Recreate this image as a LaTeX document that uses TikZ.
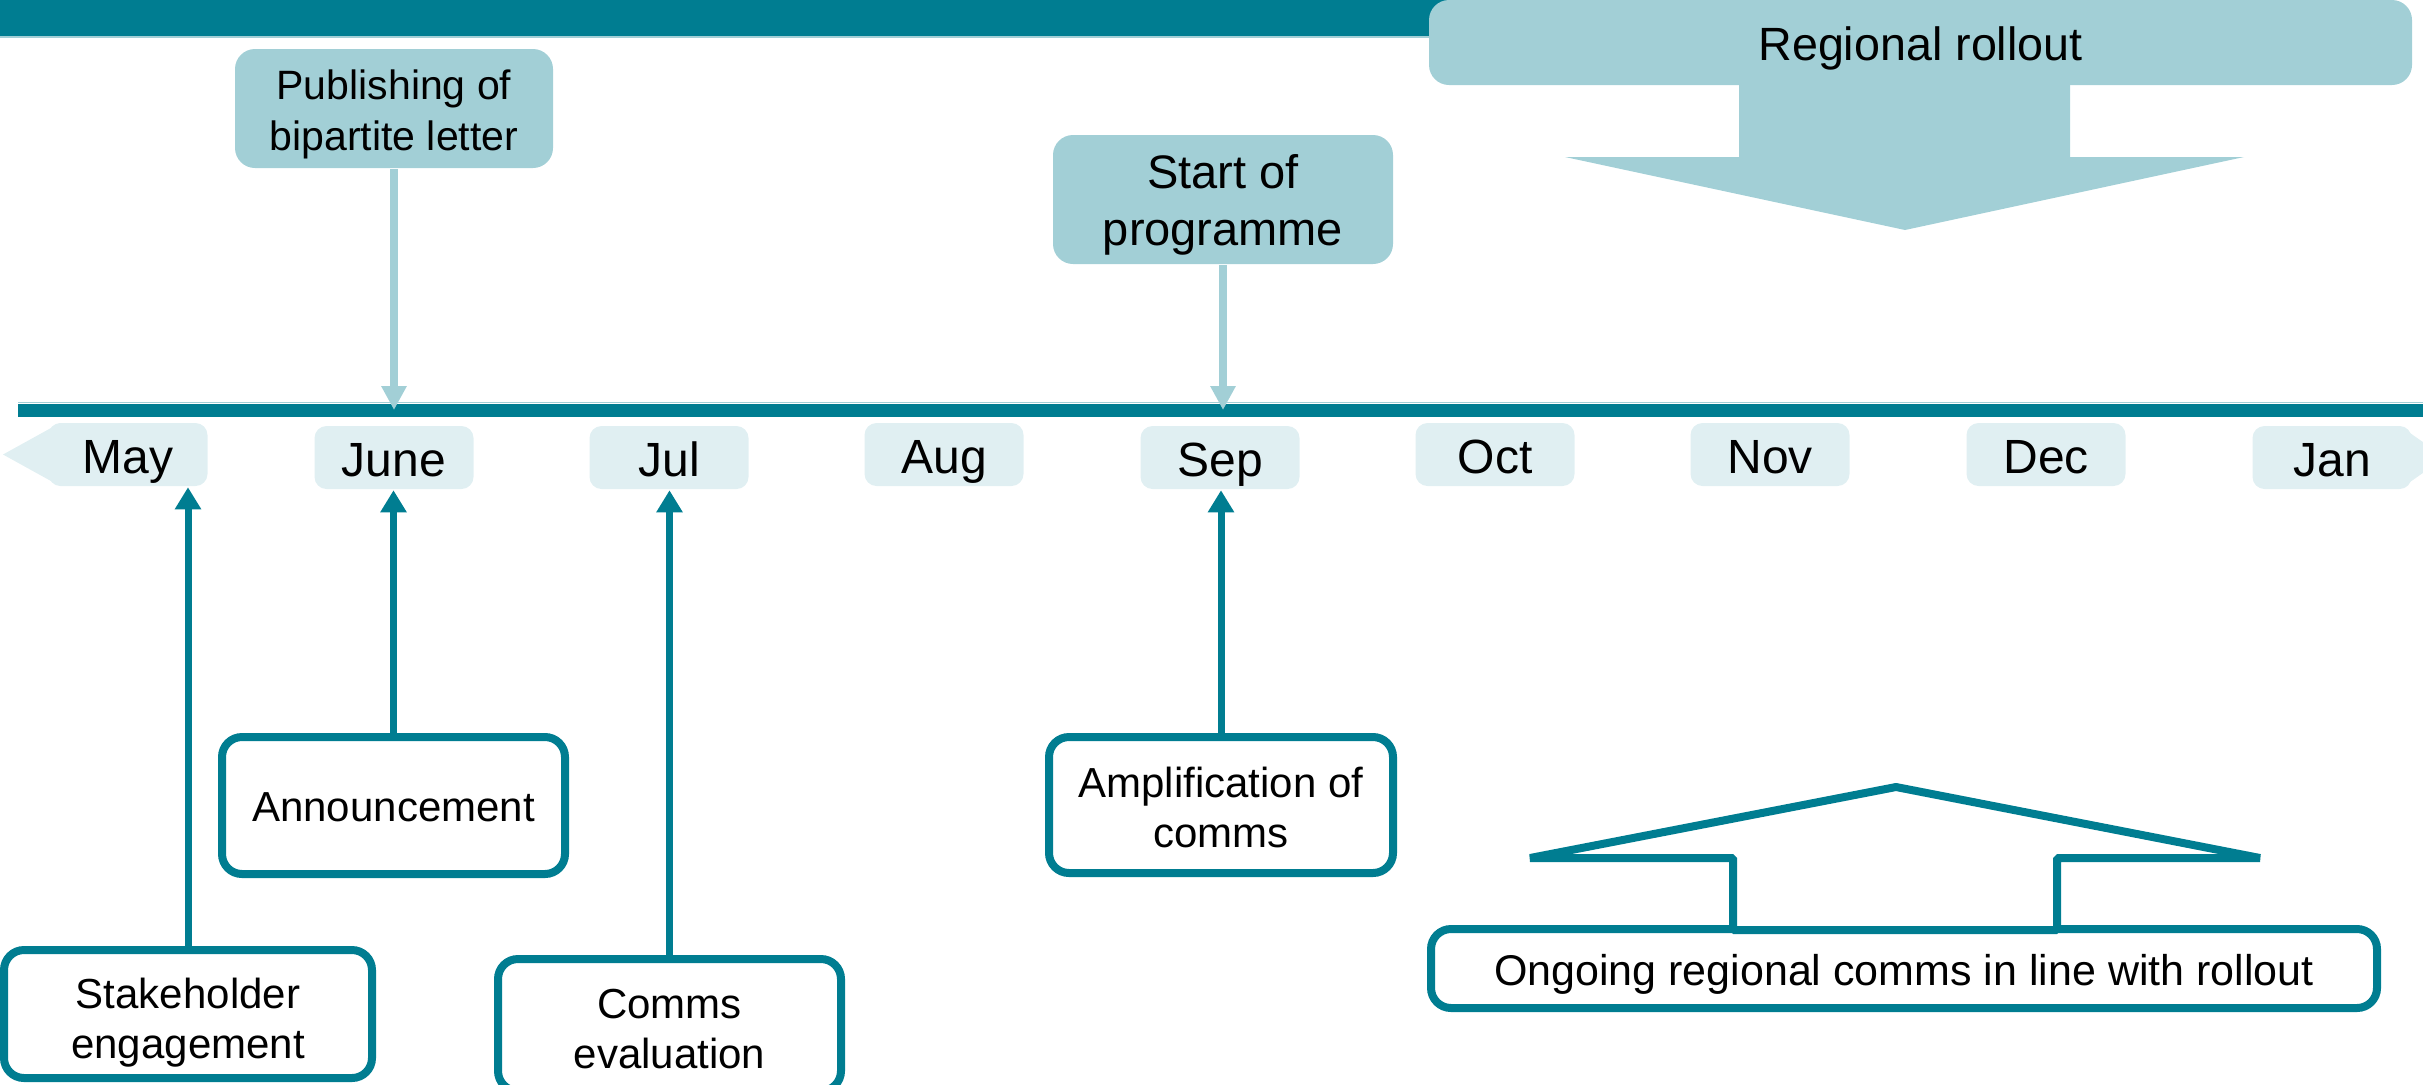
\documentclass[tikz,border=0pt]{standalone}
\usepackage{fontspec}
\setmainfont{Liberation Sans}
\usetikzlibrary{arrows.meta}

\definecolor{tealdark}{RGB}{0,125,145}
\definecolor{teallight}{RGB}{162,207,214}
\definecolor{monthfill}{RGB}{224,239,242}

\tikzset{every picture/.style={line width=0.75pt}}
\tikzset{
  baseat/.style={text height=#1, text depth=0pt},
  monthbox/.style={fill=monthfill, rounded corners=3.6pt, minimum width=47.7pt, minimum height=18.9pt, inner sep=0pt, baseat=11.4pt, font=\fontsize{14.4}{17}\selectfont},
  milestone/.style={fill=teallight, rounded corners=6pt, inner sep=0pt, align=center},
  eventbox/.style={draw=tealdark, line width=2.4pt, fill=white, rounded corners=6pt, inner sep=0pt, align=center, font=\fontsize{12.6}{15}\selectfont},
  uparrow/.style={draw=tealdark, line width=2.1pt, -{Triangle[width=7.5pt,length=6.6pt]}},
  downarrow/.style={draw=teallight, line width=2.2pt, -{Triangle[width=7.2pt,length=7.2pt]}},
}

\begin{document}
\begin{tikzpicture}[x=0.3pt,y=0.3pt,yscale=-1,xscale=1]
\useasboundingbox (0,0) rectangle (2423,1084);
\clip (0,0) rectangle (2423,1084);

%Shape: Rectangle [header bar]
\fill[tealdark] (0,-10) rectangle (1500,36);
\draw[teallight, line width=0.6pt] (0,37) -- (1500,37);

%Shape: Down Arrow [rollout]
\fill[teallight] (1739,80) -- (2070,80) -- (2070,157) -- (2244,157) -- (1905,230) -- (1565,157) -- (1739,157) -- cycle;
% Text Node
\node[milestone, minimum width=294.9pt, minimum height=25.5pt, baseat=10.5pt, font=\fontsize{14}{17}\selectfont] (rollout) at (1920.5,42.5) {Regional rollout};

%Shape: Timeline
\coordinate (tl) at (18,410);
\coordinate (tlend) at (2430,410);
\draw[teallight, line width=0.5pt] (18,402.5) -- (2430,402.5);
\draw[tealdark, line width=3.9pt] (tl) -- (tlend);

% Month Nodes
\fill[monthfill] (3,454.5) -- (60,423) -- (60,486) -- cycle;
\node[monthbox] (may) at (128,454.5) {May};
\node[monthbox] (june) at (394,457.5) {June};
\node[monthbox] (jul) at (669,457.5) {Jul};
\node[monthbox] (aug) at (944,454.5) {Aug};
\node[monthbox] (sep) at (1220,457.5) {Sep};
\node[monthbox] (oct) at (1495,454.5) {Oct};
\node[monthbox] (nov) at (1770,454.5) {Nov};
\node[monthbox] (dec) at (2046,454.5) {Dec};
\fill[monthfill] (2400,426) -- (2445,457.5) -- (2400,489) -- cycle;
\node[monthbox] (jan) at (2332,457.5) {Jan};

% Milestones
\node[milestone, minimum width=95.4pt, minimum height=35.7pt, baseat=24.9pt, font=\fontsize{12.3}{15.3}\selectfont] (letter) at (394,108.5) {Publishing of\\bipartite letter};
\node[milestone, minimum width=102pt, minimum height=38.7pt, baseat=27.3pt, font=\fontsize{14.1}{17.1}\selectfont] (start) at (1223,199.5) {Start of\\programme};

\draw[downarrow] (letter.south) -- (letter.south |- tl);
\draw[downarrow] (start.south) -- (start.south |- tl);

% Comms Nodes
\node[eventbox, minimum width=102.9pt, minimum height=41.1pt, baseat=9.7pt] (announce) at (393.5,805.5) {Announcement};
\node[eventbox, minimum width=103.2pt, minimum height=40.8pt, baseat=25.2pt] (amplify) at (1221,805) {Amplification of\\comms};
\node[eventbox, minimum width=110.4pt, minimum height=38.4pt, baseat=26.4pt] (stake) at (188,1014) {Stakeholder\\engagement};
\node[eventbox, minimum width=102.9pt, minimum height=39.6pt, baseat=25.8pt] (evaluate) at (669.5,1025) {Comms\\evaluation};
\node[eventbox, minimum width=283.8pt, minimum height=23.7pt, baseat=9.9pt, font=\fontsize{12.9}{15}\selectfont] (ongoing) at (1904,968.5) {Ongoing regional comms in line with rollout};

%Shape: Up Arrow [outline]
\draw[tealdark, line width=2.4pt, fill=white, line join=bevel] (1733,930) -- (1733,858) -- (1530,858) -- (1896,787) -- (2260,858) -- (2057,858) -- (2057,930) -- cycle;

\draw[uparrow] (stake.north) -- (stake.north |- may.south);
\draw[uparrow] (announce.north) -- (announce.north |- june.south);
\draw[uparrow] (evaluate.north) -- (evaluate.north |- jul.south);
\draw[uparrow] (amplify.north) -- (amplify.north |- sep.south);

\end{tikzpicture}
\end{document}
